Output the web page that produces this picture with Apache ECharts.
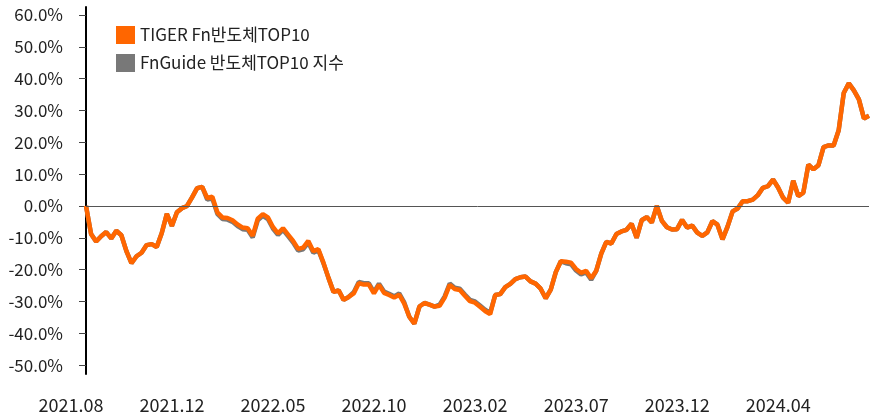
<!DOCTYPE html>
<html>
<head>
<meta charset="utf-8">
<script src="https://cdn.jsdelivr.net/npm/echarts@6/dist/echarts.min.js"></script>
<style>
html, body { margin: 0; padding: 0; background: #fff; }
#main { width: 879px; height: 414px; }
</style>
</head>
<body>
<div id="main"></div>
<script>
// 누적 수익률 (%) - 약 5 영업일 간격 샘플
var tickLabels = ['2021.08', '2021.12', '2022.05', '2022.10', '2023.02', '2023.07', '2023.12', '2024.04'];
var labelStep = 20;
var yTickValues = [-50, -40, -30, -20, -10, 0, 10, 20, 30, 40, 50, 60];

var tigerValues = [
	0, -8.8, -11.2, -9.5, -8.2, -10.2, -7.8, -9.2, -14.2, -18.0,
	-15.8, -14.7, -12.3, -12.0, -12.9, -8.5, -2.5, -6.3, -2.0, -0.7,
	0, 2.7, 5.6, 6.0, 2.5, 2.9, -2.0, -3.6, -3.8, -4.5,
	-5.8, -6.8, -7.0, -9.4, -4.0, -2.6, -3.6, -6.6, -8.6, -7.0,
	-9.0, -11.0, -13.5, -13.1, -11.0, -14.2, -13.6, -17.8, -22.6, -27.0,
	-26.5, -29.5, -28.6, -27.5, -24.3, -24.7, -24.7, -27.5, -24.8, -27.3,
	-28.0, -28.8, -27.9, -30.7, -34.8, -37.0, -31.6, -30.5, -31.0, -31.6,
	-31.4, -28.8, -24.8, -26.1, -26.4, -28.2, -29.9, -30.4, -31.7, -33.0,
	-34.0, -28.0, -27.7, -25.5, -24.5, -23.0, -22.4, -22.2, -23.7, -24.4,
	-26.0, -29.0, -26.3, -20.8, -17.4, -17.5, -17.8, -19.8, -21.0, -20.4,
	-22.7, -20.4, -15.0, -11.3, -11.8, -8.8, -8.0, -7.5, -5.6, -10.0,
	-4.5, -3.5, -5.2, 0.0, -4.7, -6.7, -7.4, -7.3, -4.4, -6.8,
	-6.2, -8.4, -9.4, -8.3, -4.8, -5.9, -10.5, -6.5, -1.7, -0.8,
	1.5, 1.5, 2.0, 3.4, 5.7, 6.2, 8.3, 5.8, 2.6, 1.0,
	7.9, 3.1, 4.2, 13.0, 11.5, 12.8, 18.5, 19.0, 19.0, 23.8,
	35.5, 38.5, 36.3, 33.5, 27.5, 28.3
];

var indexValues = [
	0, -8.8, -11.2, -9.5, -8.2, -10.2, -7.8, -9.2, -14.2, -18.0,
	-15.8, -14.7, -12.3, -12.0, -12.9, -8.5, -2.5, -6.3, -2.0, -0.7,
	0, 2.7, 5.6, 6.0, 2.0, 2.4, -2.5, -4.1, -4.3, -5.0,
	-6.3, -7.3, -7.5, -9.9, -4.5, -3.1, -4.1, -7.1, -9.1, -7.5,
	-9.5, -11.5, -14.0, -13.6, -11.5, -14.7, -13.9, -18.0, -22.6, -27.0,
	-26.5, -29.5, -28.6, -27.1, -23.9, -24.3, -24.3, -27.1, -24.4, -26.9,
	-27.6, -28.4, -27.5, -30.3, -34.8, -37.0, -31.6, -30.5, -31.0, -31.6,
	-31.0, -28.4, -24.4, -25.7, -26.0, -27.8, -29.5, -30.0, -31.3, -32.6,
	-33.6, -28.0, -27.7, -25.5, -24.5, -23.0, -22.4, -22.2, -23.7, -24.4,
	-26.0, -29.0, -26.3, -20.8, -17.4, -18.0, -18.3, -20.3, -21.5, -20.9,
	-23.2, -20.4, -15.0, -11.3, -11.8, -8.8, -8.0, -7.5, -5.6, -10.0,
	-4.5, -3.5, -5.2, 0.0, -4.7, -6.7, -7.4, -7.3, -4.4, -6.8,
	-6.2, -8.4, -9.4, -8.3, -4.8, -5.9, -10.5, -6.5, -1.7, -0.8,
	1.5, 1.5, 2.0, 3.4, 5.7, 6.2, 8.3, 5.8, 2.6, 1.0,
	7.9, 3.1, 4.2, 13.0, 11.5, 12.8, 18.5, 19.0, 19.0, 23.8,
	35.5, 38.5, 36.3, 33.5, 27.5, 28.3
];

var seriesNames = ['TIGER Fn반도체TOP10', 'FnGuide 반도체TOP10 지수'];

function toPairs(arr) {
	var out = [];
	for (var i = 0; i < arr.length; i++) {
		out.push([i, arr[i]]);
	}
	return out;
}

var labelPos = [];
for (var i = 0; i < tickLabels.length; i++) {
	labelPos.push(i * labelStep);
}

var font = 'Noto Sans CJK KR';
var myChart = echarts.init(document.getElementById('main'));

var option = {
	animation : false,
	grid : {
		left : 86,
		right : 10,
		top : 7,
		bottom : 40
	},
	legend : {
		orient : 'vertical',
		left : 111,
		top : 21,
		icon : 'rect',
		itemWidth : 19,
		itemHeight : 18,
		itemGap : 10,
		itemStyle : { borderWidth : 0 },
		data : seriesNames,
		textStyle : {
			fontFamily : font,
			fontSize : 17,
			color : '#222'
		}
	},
	xAxis : {
		type : 'value',
		min : 0,
		max : tigerValues.length - 1,
		axisLine : { show : false },
		axisTick : { show : false },
		splitLine : { show : false },
		axisLabel : {
			customValues : labelPos,
			formatter : function(v) {
				return tickLabels[Math.round(v / labelStep)];
			},
			fontFamily : font,
			fontSize : 18,
			color : '#222',
			margin : 22,
			padding : [ 0, 30, 0, 0 ]
		}
	},
	yAxis : {
		type : 'value',
		min : -52.8,
		max : 62.5,
		splitLine : { show : false },
		axisLine : {
			show : true,
			lineStyle : { color : '#000', width : 2 }
		},
		axisTick : {
			show : true,
			customValues : yTickValues,
			length : 7,
			lineStyle : { color : '#444' }
		},
		axisLabel : {
			customValues : yTickValues,
			formatter : function(v) {
				return v.toFixed(1) + '%';
			},
			fontFamily : font,
			fontSize : 17,
			color : '#222',
			margin : 23
		}
	},
	series : [ {
		name : seriesNames[1],
		type : 'line',
		data : toPairs(indexValues),
		showSymbol : false,
		color : '#787878',
		lineStyle : { width : 4.5, color : '#787878' },
		markLine : {
			silent : true,
			symbol : 'none',
			label : { show : false },
			lineStyle : { color : '#555', width : 1, type : 'solid' },
			data : [ { yAxis : 0 } ]
		}
	}, {
		name : seriesNames[0],
		type : 'line',
		data : toPairs(tigerValues),
		showSymbol : false,
		color : '#FF6600',
		lineStyle : { width : 4.5, color : '#FF6600' }
	} ]
};

myChart.setOption(option);
</script>
</body>
</html>
